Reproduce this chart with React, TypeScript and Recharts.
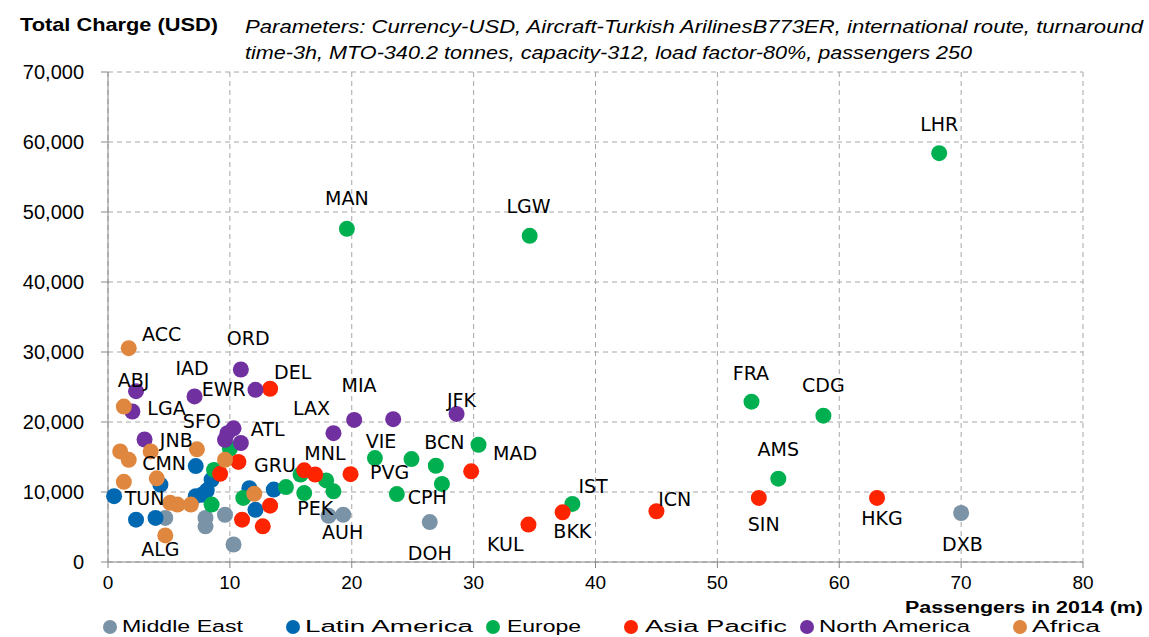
import React from 'react'
import { ScatterChart, Scatter, XAxis, YAxis, CartesianGrid } from 'recharts'

type Pt = { x: number; y: number }
type Lbl = { x: number; y: number; name: string }

const middleEast: Pt[] = [
  { x: 70.0, y: 7000 }, { x: 26.4, y: 5700 }, { x: 18.1, y: 6600 }, { x: 19.3, y: 6750 },
  { x: 9.6, y: 6750 }, { x: 8.0, y: 6300 }, { x: 8.0, y: 5100 }, { x: 10.3, y: 2500 },
  { x: 4.7, y: 6300 },
]

const latinAmerica: Pt[] = [
  { x: 0.5, y: 9400 }, { x: 2.3, y: 6050 }, { x: 3.9, y: 6300 }, { x: 4.3, y: 11050 },
  { x: 7.2, y: 13700 }, { x: 7.2, y: 9400 }, { x: 7.7, y: 9600 }, { x: 8.1, y: 10200 },
  { x: 8.5, y: 11750 }, { x: 11.6, y: 10550 }, { x: 13.6, y: 10350 }, { x: 12.1, y: 7450 },
]

const europe: Pt[] = [
  { x: 68.2, y: 58400 }, { x: 19.6, y: 47600 }, { x: 34.6, y: 46600 }, { x: 52.8, y: 22900 },
  { x: 58.7, y: 20900 }, { x: 55.0, y: 11900 }, { x: 38.1, y: 8300 }, { x: 30.4, y: 16750 },
  { x: 26.9, y: 13750 }, { x: 27.4, y: 11150 }, { x: 24.9, y: 14700 }, { x: 21.9, y: 14850 },
  { x: 23.7, y: 9700 }, { x: 16.1, y: 9850 }, { x: 17.9, y: 11650 }, { x: 18.5, y: 10100 },
  { x: 15.8, y: 12500 }, { x: 14.6, y: 10700 }, { x: 11.1, y: 9150 }, { x: 8.5, y: 8200 },
  { x: 8.7, y: 13150 }, { x: 10.0, y: 16200 },
]

const asiaPacific: Pt[] = [
  { x: 63.1, y: 9150 }, { x: 53.4, y: 9150 }, { x: 45.0, y: 7250 }, { x: 37.3, y: 7100 },
  { x: 34.5, y: 5350 }, { x: 29.8, y: 12950 }, { x: 19.9, y: 12550 }, { x: 16.1, y: 13100 },
  { x: 17.0, y: 12500 }, { x: 13.3, y: 24750 }, { x: 10.7, y: 14300 }, { x: 9.2, y: 12600 },
  { x: 13.3, y: 8050 }, { x: 11.0, y: 6050 }, { x: 12.7, y: 5100 },
]

const northAmerica: Pt[] = [
  { x: 10.9, y: 27500 }, { x: 12.1, y: 24600 }, { x: 7.1, y: 23650 }, { x: 2.3, y: 24400 },
  { x: 2.0, y: 21500 }, { x: 3.0, y: 17500 }, { x: 18.5, y: 18400 }, { x: 20.2, y: 20300 },
  { x: 23.4, y: 20400 }, { x: 28.6, y: 21150 }, { x: 10.3, y: 19100 }, { x: 9.8, y: 18400 },
  { x: 9.6, y: 17450 }, { x: 10.9, y: 17000 },
]

const africa: Pt[] = [
  { x: 1.7, y: 30550 }, { x: 1.3, y: 22200 }, { x: 1.0, y: 15800 }, { x: 1.7, y: 14600 },
  { x: 3.5, y: 15800 }, { x: 7.3, y: 16100 }, { x: 9.6, y: 14600 }, { x: 12.0, y: 9750 },
  { x: 1.3, y: 11450 }, { x: 4.0, y: 11950 }, { x: 5.1, y: 8450 }, { x: 5.7, y: 8200 },
  { x: 6.8, y: 8200 }, { x: 4.7, y: 3800 },
]

// airport codes, placed where the reference puts them
const airportLabels: Lbl[] = [
  { x: 68.2, y: 62600, name: 'LHR' }, { x: 19.6, y: 52000, name: 'MAN' },
  { x: 34.5, y: 50900, name: 'LGW' }, { x: 4.4, y: 32600, name: 'ACC' },
  { x: 11.5, y: 32050, name: 'ORD' }, { x: 6.9, y: 27750, name: 'IAD' },
  { x: 15.15, y: 27200, name: 'DEL' }, { x: 20.6, y: 25350, name: 'MIA' },
  { x: 9.5, y: 24650, name: 'EWR' }, { x: 2.1, y: 26050, name: 'ABJ' },
  { x: 4.8, y: 22050, name: 'LGA' }, { x: 16.7, y: 22050, name: 'LAX' },
  { x: 29.0, y: 23200, name: 'JFK' }, { x: 52.75, y: 27050, name: 'FRA' },
  { x: 58.7, y: 25350, name: 'CDG' }, { x: 7.7, y: 20200, name: 'SFO' },
  { x: 13.1, y: 19050, name: 'ATL' }, { x: 5.6, y: 17450, name: 'JNB' },
  { x: 4.6, y: 14200, name: 'CMN' }, { x: 22.4, y: 17350, name: 'VIE' },
  { x: 27.6, y: 17200, name: 'BCN' }, { x: 33.4, y: 15600, name: 'MAD' },
  { x: 55.0, y: 16200, name: 'AMS' }, { x: 13.7, y: 13900, name: 'GRU' },
  { x: 17.8, y: 15600, name: 'MNL' }, { x: 23.1, y: 12900, name: 'PVG' },
  { x: 39.8, y: 10900, name: 'IST' }, { x: 46.5, y: 9050, name: 'ICN' },
  { x: 3.0, y: 9200, name: 'TUN' }, { x: 26.2, y: 9350, name: 'CPH' },
  { x: 17.0, y: 7750, name: 'PEK' }, { x: 19.25, y: 4350, name: 'AUH' },
  { x: 53.8, y: 5450, name: 'SIN' }, { x: 63.5, y: 6350, name: 'HKG' },
  { x: 32.6, y: 2600, name: 'KUL' }, { x: 38.1, y: 4450, name: 'BKK' },
  { x: 4.3, y: 1900, name: 'ALG' }, { x: 26.4, y: 1350, name: 'DOH' },
  { x: 70.1, y: 2600, name: 'DXB' },
]

const xTicks = [0, 10, 20, 30, 40, 50, 60, 70, 80]
const yTicks = [0, 10000, 20000, 30000, 40000, 50000, 60000, 70000]

const series = [
  { name: 'Middle East', color: '#7B93A6', data: middleEast },
  { name: 'Latin America', color: '#0068B0', data: latinAmerica },
  { name: 'Europe', color: '#00B050', data: europe },
  { name: 'Asia Pacific', color: '#FF2400', data: asiaPacific },
  { name: 'North America', color: '#7030A0', data: northAmerica },
  { name: 'Africa', color: '#E0873F', data: africa },
]

// legend layout (x of marker, x of text, text width)
const legendPos = [
  [110, 122, 121], [293, 305, 168], [493, 507, 74],
  [631, 645, 142], [807, 819, 151], [1020, 1032, 68],
]

const font = '"Liberation Sans", Arial, sans-serif'

const dot = (color: string) => (props: any) => (
  <circle cx={props.cx} cy={props.cy} r={8} fill={color} />
)

const codeText = (props: any) => (
  <text
    x={props.cx}
    y={props.cy}
    textAnchor="middle"
    dominantBaseline="central"
    fontFamily='"DejaVu Sans", sans-serif'
    fontSize={19}
    fill="#000"
  >
    {props.payload.name}
  </text>
)

export default function App() {
  return (
    <div style={{ position: 'absolute', left: 0, top: 0, width: 1149, height: 637, background: '#fff', overflow: 'hidden' }}>
      <ScatterChart width={1149} height={637} margin={{ top: 72, right: 66, bottom: 45, left: 0 }}>
        <CartesianGrid stroke="#a6a6a6" strokeDasharray="5 4" />
        <XAxis
          type="number"
          dataKey="x"
          domain={[0, 80]}
          ticks={xTicks}
          height={30}
          tickSize={6}
          tickMargin={8}
          stroke="#868686"
          tick={{ fontFamily: font, fontSize: 19, fill: '#000' }}
          interval={0}
        />
        <YAxis
          type="number"
          dataKey="y"
          domain={[0, 70000]}
          ticks={yTicks}
          width={108}
          tickSize={7}
          tickMargin={17}
          stroke="#868686"
          tick={{ fontFamily: font, fontSize: 20, fill: '#000' }}
          interval={0}
          tickFormatter={(v: number) => v.toLocaleString('en-US')}
        />
        {series.map((s) => (
          <Scatter
            key={s.name}
            name={s.name}
            data={s.data}
            fill={s.color}
            shape={dot(s.color)}
            isAnimationActive={false}
          />
        ))}
        <Scatter name="codes" data={airportLabels} shape={codeText} isAnimationActive={false} />
      </ScatterChart>

      <svg width={1149} height={637} style={{ position: 'absolute', left: 0, top: 0, pointerEvents: 'none' }}>
        <text x={20} y={31} textLength={198} lengthAdjust="spacingAndGlyphs"
          fontFamily={font} fontWeight="bold" fontSize={19}>
          Total Charge (USD)
        </text>
        <text x={245} y={33} textLength={898} lengthAdjust="spacingAndGlyphs"
          fontFamily={font} fontStyle="italic" fontSize={19}>
          Parameters: Currency-USD, Aircraft-Turkish ArilinesB773ER, international route, turnaround
        </text>
        <text x={245} y={59} textLength={727} lengthAdjust="spacingAndGlyphs"
          fontFamily={font} fontStyle="italic" fontSize={19}>
          time-3h, MTO-340.2 tonnes, capacity-312, load factor-80%, passengers 250
        </text>
        <text x={1143} y={613} textAnchor="end" textLength={238} lengthAdjust="spacingAndGlyphs"
          fontFamily={font} fontWeight="bold" fontSize={16}>
          Passengers in 2014 (m)
        </text>
        {series.map((s, i) => (
          <g key={s.name}>
            <circle cx={legendPos[i][0]} cy={627} r={7} fill={s.color} />
            <text x={legendPos[i][1]} y={632} textLength={legendPos[i][2]} lengthAdjust="spacingAndGlyphs"
              fontFamily={font} fontSize={16}>
              {s.name}
            </text>
          </g>
        ))}
      </svg>
    </div>
  )
}
